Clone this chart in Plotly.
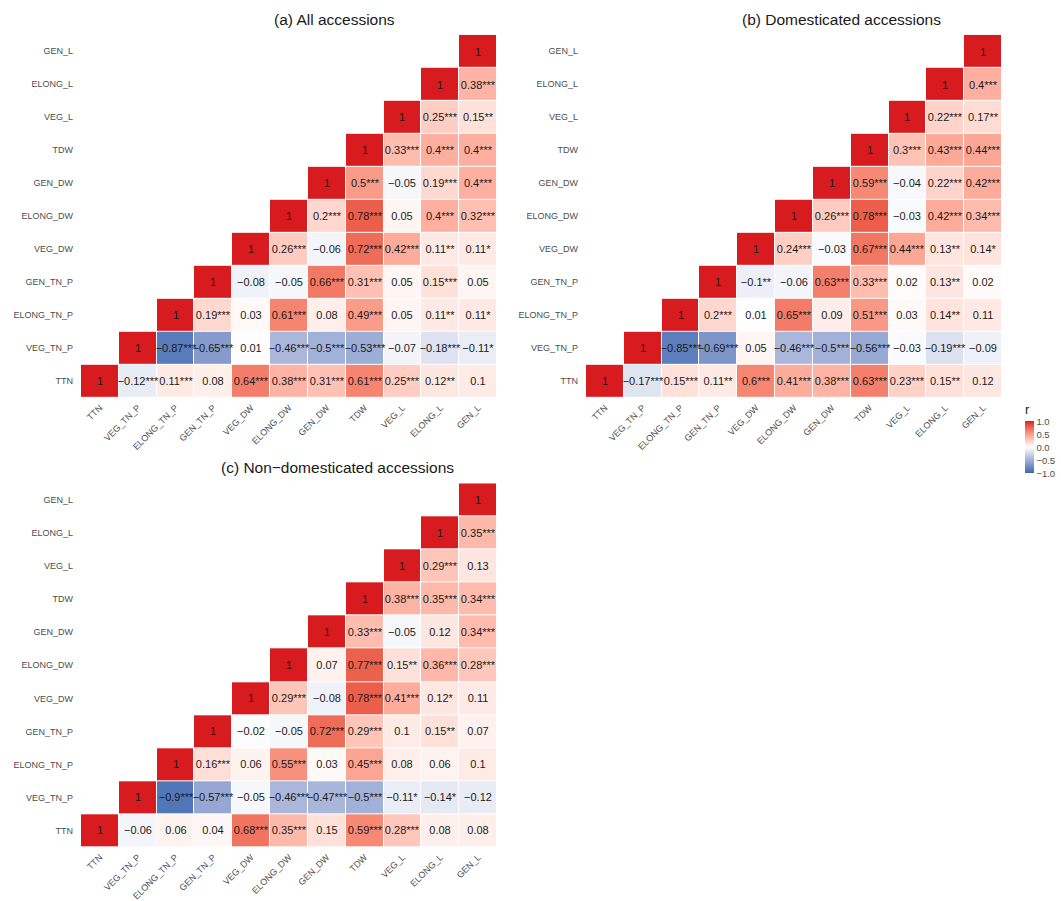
import plotly.graph_objects as go

# Trait order (bottom-to-top rows, left-to-right columns)
traits = ["TTN", "VEG_TN_P", "ELONG_TN_P", "GEN_TN_P", "VEG_DW", "ELONG_DW",
          "GEN_DW", "TDW", "VEG_L", "ELONG_L", "GEN_L"]

# Upper-triangle correlations: row i holds r(traits[i], traits[j]) for j >= i
r_all = [
    [1, -0.12, 0.11, 0.08, 0.64, 0.38, 0.31, 0.61, 0.25, 0.12, 0.1],
    [1, -0.87, -0.65, 0.01, -0.46, -0.5, -0.53, -0.07, -0.18, -0.11],
    [1, 0.19, 0.03, 0.61, 0.08, 0.49, 0.05, 0.11, 0.11],
    [1, -0.08, -0.05, 0.66, 0.31, 0.05, 0.15, 0.05],
    [1, 0.26, -0.06, 0.72, 0.42, 0.11, 0.11],
    [1, 0.2, 0.78, 0.05, 0.4, 0.32],
    [1, 0.5, -0.05, 0.19, 0.4],
    [1, 0.33, 0.4, 0.4],
    [1, 0.25, 0.15],
    [1, 0.38],
    [1],
]
sig_all = [
    ["", "***", "***", "", "***", "***", "***", "***", "***", "**", ""],
    ["", "***", "***", "", "***", "***", "***", "", "***", "*"],
    ["", "***", "", "***", "", "***", "", "**", "*"],
    ["", "", "", "***", "***", "", "***", ""],
    ["", "***", "", "***", "***", "**", "*"],
    ["", "***", "***", "", "***", "***"],
    ["", "***", "", "***", "***"],
    ["", "***", "***", "***"],
    ["", "***", "**"],
    ["", "***"],
    [""],
]

r_dom = [
    [1, -0.17, 0.15, 0.11, 0.6, 0.41, 0.38, 0.63, 0.23, 0.15, 0.12],
    [1, -0.85, -0.69, 0.05, -0.46, -0.5, -0.56, -0.03, -0.19, -0.09],
    [1, 0.2, 0.01, 0.65, 0.09, 0.51, 0.03, 0.14, 0.11],
    [1, -0.1, -0.06, 0.63, 0.33, 0.02, 0.13, 0.02],
    [1, 0.24, -0.03, 0.67, 0.44, 0.13, 0.14],
    [1, 0.26, 0.78, -0.03, 0.42, 0.34],
    [1, 0.59, -0.04, 0.22, 0.42],
    [1, 0.3, 0.43, 0.44],
    [1, 0.22, 0.17],
    [1, 0.4],
    [1],
]
sig_dom = [
    ["", "***", "***", "**", "***", "***", "***", "***", "***", "**", ""],
    ["", "***", "***", "", "***", "***", "***", "", "***", ""],
    ["", "***", "", "***", "", "***", "", "**", ""],
    ["", "**", "", "***", "***", "", "**", ""],
    ["", "***", "", "***", "***", "**", "*"],
    ["", "***", "***", "", "***", "***"],
    ["", "***", "", "***", "***"],
    ["", "***", "***", "***"],
    ["", "***", "**"],
    ["", "***"],
    [""],
]

r_wild = [
    [1, -0.06, 0.06, 0.04, 0.68, 0.35, 0.15, 0.59, 0.28, 0.08, 0.08],
    [1, -0.9, -0.57, -0.05, -0.46, -0.47, -0.5, -0.11, -0.14, -0.12],
    [1, 0.16, 0.06, 0.55, 0.03, 0.45, 0.08, 0.06, 0.1],
    [1, -0.02, -0.05, 0.72, 0.29, 0.1, 0.15, 0.07],
    [1, 0.29, -0.08, 0.78, 0.41, 0.12, 0.11],
    [1, 0.07, 0.77, 0.15, 0.36, 0.28],
    [1, 0.33, -0.05, 0.12, 0.34],
    [1, 0.38, 0.35, 0.34],
    [1, 0.29, 0.13],
    [1, 0.35],
    [1],
]
sig_wild = [
    ["", "", "", "", "***", "***", "", "***", "***", "", ""],
    ["", "***", "***", "", "***", "***", "***", "*", "*", ""],
    ["", "***", "", "***", "", "***", "", "", ""],
    ["", "", "", "***", "***", "", "**", ""],
    ["", "***", "", "***", "***", "*", ""],
    ["", "", "***", "**", "***", "***"],
    ["", "***", "", "", "***"],
    ["", "***", "***", "***"],
    ["", "***", ""],
    ["", "***"],
    [""],
]

panel_titles = ["(a) All accessions", "(b) Domesticated accessions",
                "(c) Non\u2212domesticated accessions"]

FONT = "Liberation Sans, Arial, Helvetica, sans-serif"
W, H = 1061, 901
LOW, MID, HIGH = "#3869B0", "#FFFFFF", "#D81B1E"


# ---- Lab-space colour interpolation (diverging gradient) ----
def _hex_rgb(h):
    h = h.lstrip("#")
    return [int(h[i:i + 2], 16) / 255 for i in (0, 2, 4)]


def _to_lab(rgb):
    lin = [c / 12.92 if c <= 0.04045 else ((c + 0.055) / 1.055) ** 2.4 for c in rgb]
    x = (0.4124 * lin[0] + 0.3576 * lin[1] + 0.1805 * lin[2]) / 0.95047
    y = (0.2126 * lin[0] + 0.7152 * lin[1] + 0.0722 * lin[2]) / 1.0
    z = (0.0193 * lin[0] + 0.1192 * lin[1] + 0.9505 * lin[2]) / 1.08883
    f = lambda t: t ** (1 / 3) if t > 0.008856 else 7.787 * t + 16 / 116
    fx, fy, fz = f(x), f(y), f(z)
    return [116 * fy - 16, 500 * (fx - fy), 200 * (fy - fz)]


def _from_lab(lab):
    L, a, b = lab
    fy = (L + 16) / 116
    fx = fy + a / 500
    fz = fy - b / 200
    g = lambda t: t ** 3 if t ** 3 > 0.008856 else (t - 16 / 116) / 7.787
    x, y, z = g(fx) * 0.95047, g(fy), g(fz) * 1.08883
    lin = [3.2406 * x - 1.5372 * y - 0.4986 * z,
           -0.9689 * x + 1.8758 * y + 0.0415 * z,
           0.0557 * x - 0.2040 * y + 1.0570 * z]
    out = []
    for c in lin:
        c = max(0.0, min(1.0, c))
        c = 12.92 * c if c <= 0.0031308 else 1.055 * c ** (1 / 2.4) - 0.055
        out.append(int(round(max(0, min(1, c)) * 255)))
    return "rgb({},{},{})".format(*out)


def _mix(c1, c2, t):
    a, b = _to_lab(_hex_rgb(c1)), _to_lab(_hex_rgb(c2))
    return _from_lab([a[k] + (b[k] - a[k]) * t for k in range(3)])


n_steps = 20
colorscale = []
for k in range(n_steps + 1):
    s = k / n_steps
    v = -1 + 2 * s
    col = _mix(MID, LOW, -v) if v < 0 else _mix(MID, HIGH, v)
    colorscale.append([s, col])


def fmt(v):
    s = f"{v:g}"
    return s.replace("-", "\u2212")


def build(rows, sigs):
    n = len(traits)
    z = [[None] * n for _ in range(n)]
    txt = [[""] * n for _ in range(n)]
    for i, (row, srow) in enumerate(zip(rows, sigs)):
        for k, (v, s) in enumerate(zip(row, srow)):
            j = i + k
            z[i][j] = v
            txt[i][j] = fmt(v) + s
    return z, txt


panels = [(r_all, sig_all), (r_dom, sig_dom), (r_wild, sig_wild)]
# pixel boxes of each panel grid: left, right, top, bottom
boxes = [(81, 497, 35, 400), (586, 1002, 35, 400), (81, 497, 486, 852)]
title_pos = [(334, 20), (841, 20), (337, 470)]

fig = go.Figure()
for p, ((rows, sigs), (x0, x1, y0, y1)) in enumerate(zip(panels, boxes)):
    z, txt = build(rows, sigs)
    ax = "" if p == 0 else str(p + 1)
    fig.add_trace(go.Heatmap(
        z=z, x=traits, y=traits, text=txt, texttemplate="%{text}",
        textfont=dict(size=11, color="#1a1a1a", family=FONT),
        colorscale=colorscale, zmin=-1, zmax=1, xgap=1, ygap=1,
        hoverongaps=False, xaxis="x" + ax, yaxis="y" + ax,
        showscale=(p == 0),
        colorbar=dict(
            title=dict(text="r", side="top", font=dict(size=13, color="#1a1a1a", family=FONT)),
            x=1025 / W, xanchor="left", y=1 - 476 / H, yanchor="bottom",
            len=72, lenmode="pixels", thickness=9, thicknessmode="pixels",
            tickvals=[-1, -0.5, 0, 0.5, 1],
            ticktext=["\u22121.0", "\u22120.5", "0.0", "0.5", "1.0"],
            tickfont=dict(size=9.5, color="#4d4d4d", family=FONT),
            ticks="", outlinewidth=0, xpad=0, ypad=0,
        ),
    ))
    axis_common = dict(showgrid=False, zeroline=False, showline=False, ticks="",
                       tickfont=dict(size=9, color="#4d4d4d", family=FONT),
                       type="category", categoryorder="array", categoryarray=traits)
    fig.layout["xaxis" + ax] = dict(axis_common, domain=[x0 / W, x1 / W],
                                    anchor="y" + ax, tickangle=-45, ticklabelstandoff=2)
    fig.layout["yaxis" + ax] = dict(axis_common, domain=[1 - y1 / H, 1 - y0 / H],
                                    anchor="x" + ax, ticklabelstandoff=7)
    tx, ty = title_pos[p]
    fig.add_annotation(text=panel_titles[p], x=tx / W, y=1 - ty / H, xref="paper",
                       yref="paper", showarrow=False, xanchor="center", yanchor="middle",
                       font=dict(size=15.5, color="#1a1a1a", family=FONT))

fig.update_layout(width=W, height=H, margin=dict(l=0, r=0, t=0, b=0),
                  plot_bgcolor="white", paper_bgcolor="white",
                  font=dict(family=FONT))

fig.write_html("out.html")
